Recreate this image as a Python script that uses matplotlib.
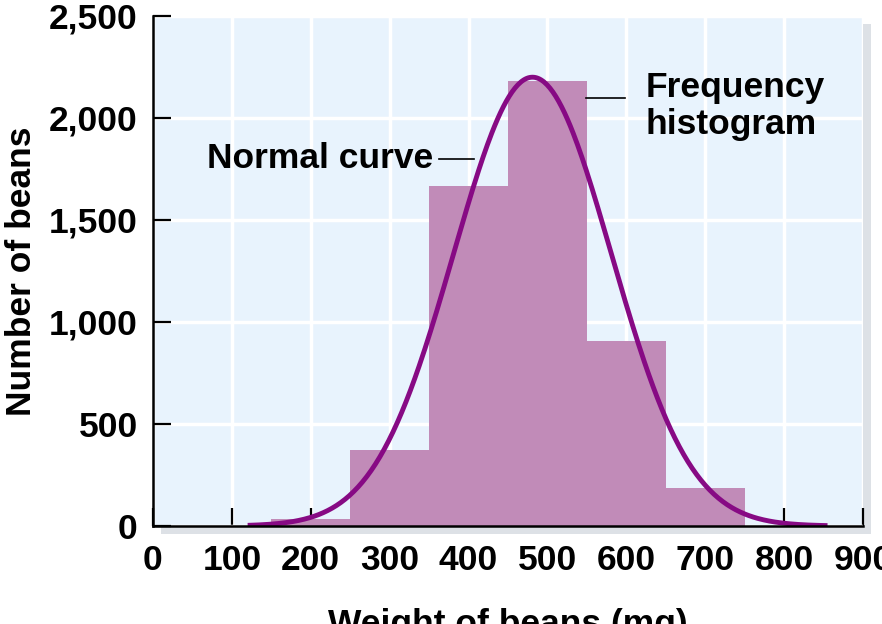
import matplotlib.pyplot as plt
import matplotlib.patches as mpatches
import numpy as np

plt.rcParams['font.family'] = ['Liberation Sans', 'DejaVu Sans']
plt.rcParams['font.weight'] = 'bold'

# histogram bins (mg) and bean counts
bin_edges = [150, 250, 350, 450, 550, 650, 750]
counts = [35, 375, 1665, 2183, 908, 188]

# normal curve
curve_mean = 481
curve_sd = 100
curve_peak = 2200
curve_start = 120
curve_end = 855

x_ticks = [0, 100, 200, 300, 400, 500, 600, 700, 800, 900]
y_ticks = [0, 500, 1000, 1500, 2000, 2500]
y_tick_labels = ["0", "500", "1,000", "1,500", "2,000", "2,500"]

bar_color = "#c18bb8"
curve_color = "#870a84"
panel_color = "#e8f3fd"
fs = 25.5

fig = plt.figure(figsize=(8.82, 6.24), dpi=100)
ax = fig.add_axes([153 / 882, 1 - 526 / 624, 710 / 882, 510 / 624])

# drop shadow behind the panel
shadow = mpatches.Rectangle((8 / 710, -8 / 510), 1, 1, transform=ax.transAxes,
                            facecolor="#dde1e6", edgecolor="none", zorder=-10, clip_on=False)
ax.add_patch(shadow)
panel = mpatches.Rectangle((0, 0), 1, 1, transform=ax.transAxes,
                           facecolor=panel_color, edgecolor="none", zorder=-9, clip_on=False)
ax.add_patch(panel)
ax.patch.set_visible(False)

widths = np.diff(bin_edges)
ax.bar(bin_edges[:-1], counts, width=widths, align="edge", color=bar_color,
       edgecolor="none", zorder=2)

xs = np.linspace(curve_start, curve_end, 400)
ys = curve_peak * np.exp(-0.5 * ((xs - curve_mean) / curve_sd) ** 2)
ax.plot(xs, ys, color=curve_color, lw=3.5, zorder=3, solid_capstyle="butt")

ax.set_xlim(0, 900)
ax.set_ylim(0, 2500)
ax.set_xticks(x_ticks)
ax.set_yticks(y_ticks)
ax.set_yticklabels(y_tick_labels)
ax.grid(True, color="white", lw=2.5, zorder=0)
ax.set_axisbelow(True)

for s in ["top", "right"]:
    ax.spines[s].set_visible(False)
for s in ["left", "bottom"]:
    ax.spines[s].set_linewidth(1.8)
    ax.spines[s].set_zorder(5)

ax.tick_params(axis="both", direction="in", length=13, width=1.6, labelsize=fs)
ax.tick_params(axis="x", pad=13)
ax.tick_params(axis="y", pad=11)

ax.set_xticklabels([str(t) for t in x_ticks])
ax.set_xlabel("Weight of beans (mg)", fontsize=fs, fontweight="bold", labelpad=22)
ax.set_ylabel("Number of beans", fontsize=fs, fontweight="bold", labelpad=8)

# callouts
ax.text(355, 1800, "Normal curve", ha="right", va="center", fontsize=fs, fontweight="bold", zorder=6)
ax.plot([363, 407], [1800, 1800], color="black", lw=1.2, zorder=6)
ax.text(624, 2060, "Frequency\nhistogram", ha="left", va="center", fontsize=fs,
        fontweight="bold", linespacing=1.15, zorder=6)
ax.plot([549, 598], [2098, 2098], color="black", lw=1.2, zorder=6)

fig.savefig("out.png", dpi=100)
